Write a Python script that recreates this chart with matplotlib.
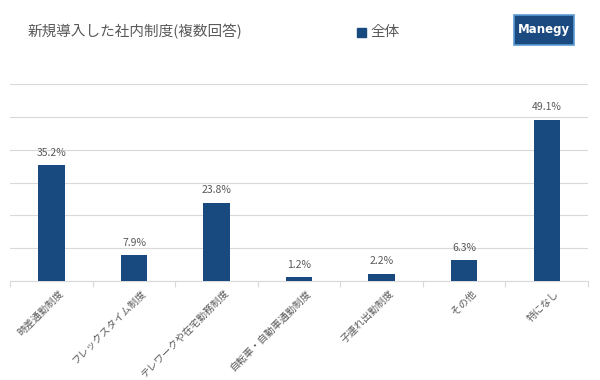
import matplotlib
matplotlib.use("Agg")
import matplotlib.pyplot as plt
from matplotlib.patches import Rectangle
import numpy as np

plt.rcParams['font.family'] = ['Noto Sans CJK JP', 'DejaVu Sans']

categories = ['時差通勤制度', 'フレックスタイム制度', 'テレワークや在宅勤務制度',
              '自転車・自動車通勤制度', '子連れ出勤制度', 'その他', '特になし']
values = [35.2, 7.9, 23.8, 1.2, 2.2, 6.3, 49.1]
labels = ['35.2%', '7.9%', '23.8%', '1.2%', '2.2%', '6.3%', '49.1%']

bar_color = '#194a7f'
text_gray = '#595959'

fig = plt.figure(figsize=(6, 3.8), dpi=100)
ax = fig.add_axes([0.017, 0.26, 0.963, 0.519])

x = np.arange(len(categories))
ax.bar(x, values, width=0.32, color=bar_color, zorder=3)
for xi, v, lab in zip(x, values, labels):
    ax.text(xi, v + 2.3, lab, ha='center', va='bottom', fontsize=7.5, color=text_gray)

ax.set_xlim(-0.5, len(categories) - 0.5)
ax.set_ylim(0, 60)
ax.set_yticks(np.arange(0, 61, 10))
ax.yaxis.grid(True, color='#d9d9d9', linewidth=0.8, zorder=0)
ax.tick_params(axis='y', left=False, labelleft=False)
for s in ['top', 'right', 'left']:
    ax.spines[s].set_visible(False)
ax.spines['bottom'].set_color('#d9d9d9')

ax.set_xticks(np.arange(-0.5, len(categories), 1.0))
ax.set_xticklabels([])
ax.tick_params(axis='x', length=4, color='#d9d9d9')
for xi, c in zip(x, categories):
    ax.annotate(c, xy=(xi, 0), xytext=(5, -5), textcoords='offset points',
                rotation=45, ha='right', va='top', fontsize=7.2, color=text_gray,
                rotation_mode='anchor', annotation_clip=False)

fig.text(28 / 600, 1 - 32 / 380, '新規導入した社内制度(複数回答)', fontsize=10.5,
         color=text_gray, va='center', ha='left')
fig.patches.append(Rectangle((357 / 600, 1 - 37 / 380), 9 / 600, 9 / 380,
                             transform=fig.transFigure, color=bar_color))
fig.text(370 / 600, 1 - 32 / 380, '全体', fontsize=10.5, color=text_gray,
         va='center', ha='left')

fig.patches.append(Rectangle((514 / 600, 1 - 45 / 380), 60 / 600, 30 / 380,
                             transform=fig.transFigure, facecolor='#1b4a80',
                             edgecolor='#5b9bd5', linewidth=1.2))
fig.text(544 / 600, 1 - 30 / 380, 'Manegy', fontsize=8.5, color='white',
         fontweight='bold', va='center', ha='center', family='DejaVu Sans')

fig.savefig('out.png', dpi=100)
